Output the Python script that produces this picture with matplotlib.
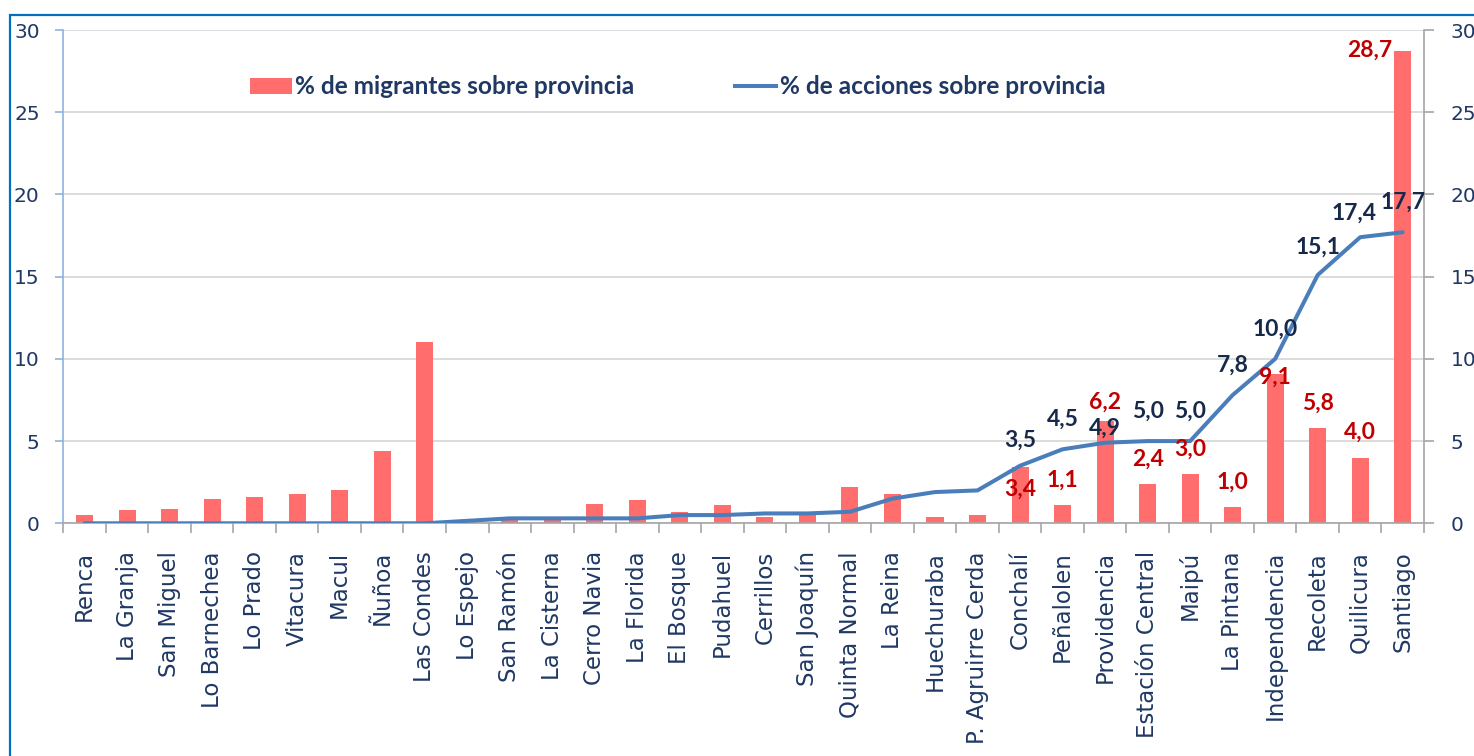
import matplotlib
matplotlib.use("Agg")
import matplotlib.pyplot as plt
from matplotlib.patches import Patch, Rectangle
from matplotlib.lines import Line2D
import numpy as np

# ---------------- data ----------------
comunas = ["Renca", "La Granja", "San Miguel", "Lo Barnechea", "Lo Prado", "Vitacura",
           "Macul", "Ñuñoa", "Las Condes", "Lo Espejo", "San Ramón", "La Cisterna",
           "Cerro Navia", "La Florida", "El Bosque", "Pudahuel", "Cerrillos",
           "San Joaquín", "Quinta Normal", "La Reina", "Huechuraba", "P. Agruirre Cerda",
           "Conchalí", "Peñalolen", "Providencia", "Estación Central", "Maipú",
           "La Pintana", "Independencia", "Recoleta", "Quilicura", "Santiago"]

migrantes = [0.5, 0.8, 0.85, 1.5, 1.6, 1.8, 2.0, 4.4, 11.0, 0.2, 0.3, 0.3,
             1.2, 1.4, 0.7, 1.1, 0.4, 0.6, 2.2, 1.8, 0.4, 0.5,
             3.4, 1.1, 6.2, 2.4, 3.0, 1.0, 9.1, 5.8, 4.0, 28.7]

acciones = [0.0, 0.0, 0.0, 0.0, 0.0, 0.0, 0.0, 0.0, 0.0, 0.15, 0.3, 0.3,
            0.3, 0.3, 0.5, 0.5, 0.6, 0.6, 0.7, 1.5, 1.9, 2.0,
            3.5, 4.5, 4.9, 5.0, 5.0, 7.8, 10.0, 15.1, 17.4, 17.7]

yticks = [0, 5, 10, 15, 20, 25, 30]
leg_bar = "% de migrantes sobre provincia"
leg_line = "% de acciones sobre provincia"
first_labeled = "Conchalí"

# label placement (pixel offsets), style only
line_lbl_dy = {"Conchalí": 26, "Providencia": 15, "Quilicura": 24, "Recoleta": 28}
line_lbl_dx = {"Quilicura": -6}
bar_lbl_dy = {"Conchalí": -22, "Providencia": 19, "Independencia": -4}

# ---------------- style ----------------
BAR = "#FF6D6D"
LINE = "#4A7EBB"
NAVY = "#1F3864"
DARK = "#17294A"
RED = "#C00000"
GRID = "#D9D9D9"
AXG = "#A6A6A6"

W, H = 1474, 756
fig = plt.figure(figsize=(W / 100, H / 100), dpi=100)
x0, x1 = 63.3, 1424.0
y0, y1 = 523.3, 30.0
ax = fig.add_axes([x0 / W, 1 - y0 / H, (x1 - x0) / W, (y0 - y1) / H])

x = np.arange(len(comunas))
ax.set_xlim(-0.5, len(comunas) - 0.5)
ax.set_ylim(0, 30)

ax.bar(x, migrantes, width=0.4, color=BAR, zorder=2)
ax.plot(x, acciones, color=LINE, lw=2.9, zorder=3, solid_capstyle="round")

ax.set_yticks(yticks)
ax.yaxis.grid(True, color=GRID, lw=1.3, zorder=0)
ax.set_axisbelow(True)

for s in ["top", "right"]:
    ax.spines[s].set_visible(False)
ax.spines["left"].set_color("#8DB3E2")
ax.spines["left"].set_linewidth(1.2)
ax.spines["bottom"].set_color(AXG)
ax.spines["bottom"].set_linewidth(1.2)

ax.tick_params(axis="y", direction="out", length=6, width=1.2, color="#8DB3E2",
               pad=11, labelsize=14.5, labelcolor=NAVY)
ax.set_xticks(x)
ax.set_xticklabels(comunas, rotation=90, fontsize=16.5, color=NAVY,
                   family="DejaVu Sans")
ax.tick_params(axis="x", which="major", length=0, pad=20)
ax.set_xticks(np.arange(-0.5, len(comunas), 1.0), minor=True)
ax.tick_params(axis="x", which="minor", direction="out", length=7, width=1.2, color=AXG)
for lbl in ax.get_yticklabels():
    lbl.set_family("DejaVu Sans")

ax2 = ax.twinx()
ax2.set_ylim(0, 30)
ax2.set_yticks(yticks)
for s in ["top", "left", "bottom"]:
    ax2.spines[s].set_visible(False)
ax2.spines["right"].set_color(AXG)
ax2.spines["right"].set_linewidth(1.2)
ax2.tick_params(axis="y", direction="out", length=7, width=1.2, color=AXG,
                pad=12, labelsize=14.5, labelcolor=NAVY)

lab_font = dict(family="Lato", weight="bold", size=16.5)

def fmt(v):
    return f"{v:.1f}".replace(".", ",")

start = comunas.index(first_labeled)
for i in range(start, len(comunas)):
    name = comunas[i]
    ax2.annotate(fmt(acciones[i]), (x[i], acciones[i]),
                 xytext=(line_lbl_dx.get(name, 0), line_lbl_dy.get(name, 30)),
                 textcoords="offset pixels", ha="center", va="center",
                 color=DARK, zorder=5, **lab_font)
    if name == "Santiago":
        ax2.annotate(fmt(migrantes[i]), (x[i] - 0.2, migrantes[i]),
                     xytext=(-2, 1), textcoords="offset pixels",
                     ha="right", va="center", color=RED, zorder=5, **lab_font)
    else:
        ax2.annotate(fmt(migrantes[i]), (x[i], migrantes[i]),
                     xytext=(0, bar_lbl_dy.get(name, 25)),
                     textcoords="offset pixels", ha="center", va="center",
                     color=RED, zorder=5, **lab_font)

handles = [Patch(facecolor=BAR, edgecolor="none"),
           Line2D([0], [0], color=LINE, lw=2.9)]
ax2.legend(handles, [leg_bar, leg_line], ncol=2, loc="center left",
           bbox_to_anchor=((250 - x0) / (x1 - x0), (y0 - 87) / (y0 - y1)),
           frameon=False, borderpad=0, borderaxespad=0,
           handlelength=1.7, handleheight=0.65, handletextpad=0.15,
           columnspacing=4.1, labelcolor=NAVY,
           prop=dict(family="Lato", weight="bold", size=17.6))

# outer blue frame (only top/left visible in the crop)
fig.patches.append(Rectangle((10 / W, -0.5), 2.0, 0.5 + (1 - 14.5 / H),
                             transform=fig.transFigure, fill=False,
                             edgecolor="#0070C0", lw=1.6, clip_on=False))

fig.savefig("out.png", dpi=100)
